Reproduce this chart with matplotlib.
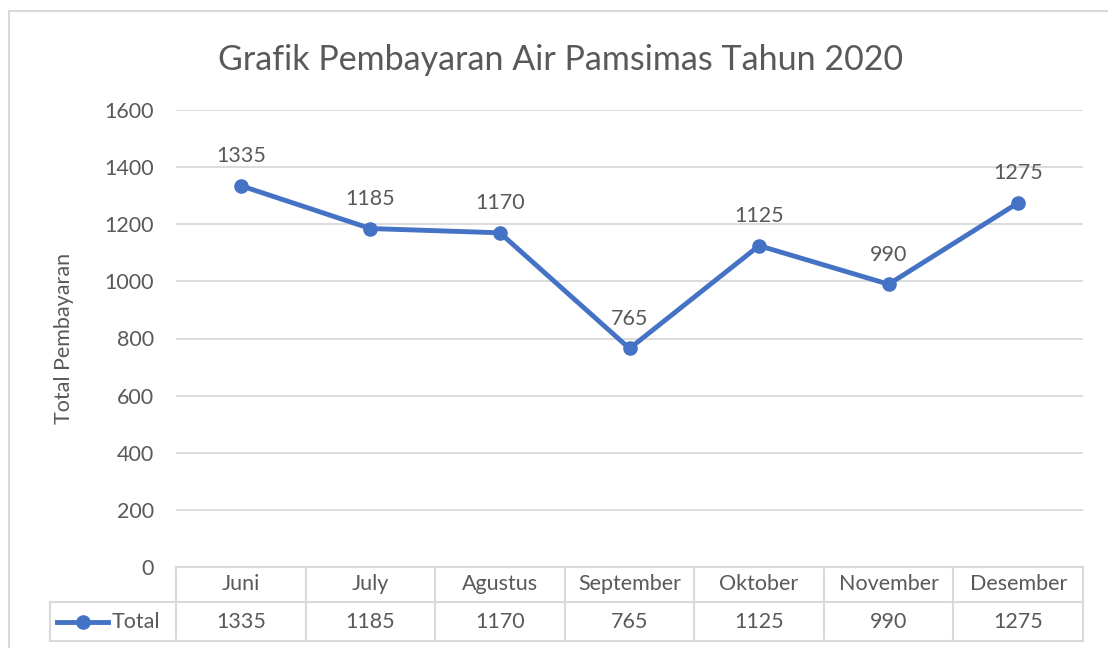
import matplotlib
matplotlib.use("Agg")
import matplotlib.pyplot as plt
from matplotlib.transforms import blended_transform_factory

bulan = ["Juni", "July", "Agustus", "September", "Oktober", "November", "Desember"]
total = [1335, 1185, 1170, 765, 1125, 990, 1275]
yticks = [0, 200, 400, 600, 800, 1000, 1200, 1400, 1600]

plt.rcParams['font.family'] = ['Lato', 'DejaVu Sans']
teks = '#595959'
garis = '#D9D9D9'
biru = '#4472C4'
fs = 15.5

W, H = 1108, 648
fig = plt.figure(figsize=(W / 100, H / 100), dpi=100)

# plot area in pixel coordinates
x0, x1, ytop, ybot = 176, 1083, 110, 567
ax = fig.add_axes([x0 / W, 1 - ybot / H, (x1 - x0) / W, (ybot - ytop) / H])

x = list(range(len(bulan)))
ax.plot(x, total, color=biru, lw=3.5, marker='o', ms=9.5, zorder=3)
for i, v in zip(x, total):
    ax.annotate(str(v), (i, v), xytext=(0, 14), textcoords='offset points',
                ha='center', va='bottom', fontsize=fs, color=teks)

ax.set_xlim(-0.5, len(bulan) - 0.5)
ax.set_ylim(0, 1600)
ax.set_yticks(yticks)
ax.set_yticklabels([str(t) for t in yticks], fontsize=fs, color=teks)
ax.set_xticks([])
ax.tick_params(axis='y', length=0, pad=16)
ax.grid(axis='y', color=garis, lw=1.3)
ax.set_axisbelow(True)
for s in ['top', 'right', 'left']:
    ax.spines[s].set_visible(False)
ax.spines['bottom'].set_color(garis)
ax.spines['bottom'].set_linewidth(1.5)
ax.set_ylabel("Total Pembayaran", fontsize=fs, color=teks, labelpad=22)

fig.text(561 / W, 1 - 60 / H, "Grafik Pembayaran Air Pamsimas Tahun 2020",
         ha='center', va='center', fontsize=24.5, color=teks)

# data table below the chart
ah = ybot - ytop
aw = x1 - x0
y_mid = (ybot - 602) / ah
y_low = (ybot - 641) / ah
x_leg = (50 - x0) / aw
tr = blended_transform_factory(ax.transData, ax.transAxes)
kw = dict(color=garis, lw=1.5, clip_on=False, transform=ax.transAxes)
ax.plot([x_leg, 1], [y_mid, y_mid], **kw)
ax.plot([x_leg, 1], [y_low, y_low], **kw)
ax.plot([x_leg, x_leg], [y_mid, y_low], **kw)
for k in range(len(bulan) + 1):
    xf = k / len(bulan)
    ax.plot([xf, xf], [0, y_low], **kw)
for i, (b, v) in enumerate(zip(bulan, total)):
    ax.text(i, y_mid / 2, b, transform=tr, ha='center', va='center',
            fontsize=fs, color=teks)
    ax.text(i, (y_mid + y_low) / 2, str(v), transform=tr, ha='center',
            va='center', fontsize=fs, color=teks)
ax.plot([(57 - x0) / aw, (108 - x0) / aw], [(y_mid + y_low) / 2] * 2,
        color=biru, lw=3.5, clip_on=False, transform=ax.transAxes)
ax.plot([(83 - x0) / aw], [(y_mid + y_low) / 2], color=biru, marker='o',
        ms=9.5, clip_on=False, transform=ax.transAxes)
ax.text((112 - x0) / aw, (y_mid + y_low) / 2, "Total", transform=ax.transAxes,
        ha='left', va='center', fontsize=fs, color=teks)

# outer chart border
fig.add_artist(plt.Line2D([9 / W, 9 / W], [0, 1 - 11 / H], color=garis, lw=1.5))
fig.add_artist(plt.Line2D([9 / W, 1], [1 - 11 / H, 1 - 11 / H], color=garis, lw=1.5))

fig.savefig("out.png", dpi=100)
